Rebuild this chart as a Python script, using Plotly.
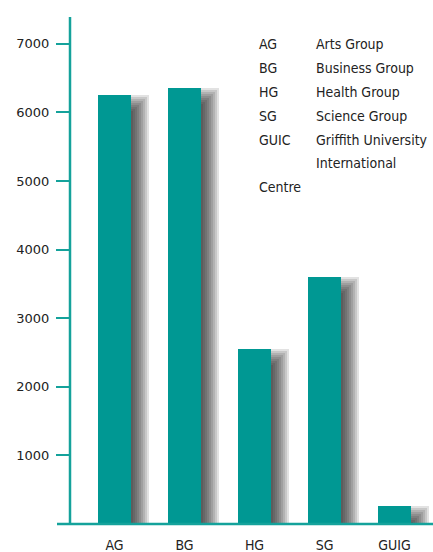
import plotly.graph_objects as go

categories = ["AG", "BG", "HG", "SG", "GUIG"]
values = [6250, 6350, 2550, 3600, 260]
y_ticks = [1000, 2000, 3000, 4000, 5000, 6000, 7000]
key_codes = ["AG", "BG", "HG", "SG", "GUIC", "", "Centre"]
key_names = ["Arts Group", "Business Group", "Health Group", "Science Group",
             "Griffith University", "International", ""]

TEAL = "#009893"
AXIS = "#14a29b"
TEXT = "#222222"
FONT = "DejaVu Sans Condensed, DejaVu Sans, sans-serif"

W, H = 433, 552
L, R, T, B = 70, 0, 17, 28
YMAX = 7390

plot_w = W - L - R
plot_h = H - T - B
bottom_px = H - B
units_per_px = YMAX / plot_h
cat_px = plot_w / (4.55 + 0.636)

fig = go.Figure()

# soft blurred drop shadow built from stacked translucent layers
DX, DY = 7, 11
N = 10
for k in range(N):
    r = -7 + 2 * k
    ext = max(DX + r, 0) / cat_px
    drop = max(DY - r, 0) * units_per_px
    fig.add_trace(go.Bar(
        x=categories, y=values, base=-drop,
        offset=0.0, width=0.235 + ext,
        marker=dict(color="rgba(30,30,30,0.13)", line=dict(width=0)),
        hoverinfo="skip", showlegend=False,
    ))

fig.add_trace(go.Bar(
    x=categories, y=values,
    offset=-0.235, width=0.47,
    marker=dict(color=TEAL, line=dict(width=0)),
    showlegend=False,
))


def px_x(p):
    return (p - L) / plot_w


def px_y(p):
    return (bottom_px - p) / plot_h


annotations = []
row_px = [44, 68, 92, 116, 140, 163, 187]
for code, name, ry in zip(key_codes, key_names, row_px):
    if code:
        annotations.append(dict(x=px_x(257), y=px_y(ry), xref="paper", yref="paper",
                                text=code, showarrow=False, xanchor="left", yanchor="middle",
                                font=dict(family=FONT, size=14, color=TEXT)))
    if name:
        annotations.append(dict(x=px_x(314), y=px_y(ry), xref="paper", yref="paper",
                                text=name, showarrow=False, xanchor="left", yanchor="middle",
                                font=dict(family=FONT, size=14, color=TEXT)))

shapes = [
    dict(type="line", xref="paper", yref="paper", x0=0, x1=0, y0=0, y1=1,
         line=dict(color=AXIS, width=2.5)),
    dict(type="line", xref="paper", yref="paper", x0=px_x(57), x1=1, y0=0, y1=0,
         line=dict(color=AXIS, width=2.5)),
]

fig.update_layout(
    width=W, height=H,
    margin=dict(l=L, r=R, t=T, b=B, autoexpand=False),
    paper_bgcolor="white", plot_bgcolor="white",
    barmode="overlay", bargap=0,
    font=dict(family=FONT, size=13, color=TEXT),
    xaxis=dict(type="category", range=[-0.636, 4.55], showgrid=False, zeroline=False,
               showline=False, ticks="", tickfont=dict(family=FONT, size=14, color=TEXT),
               ticklabelstandoff=11, automargin=False, fixedrange=True),
    yaxis=dict(range=[0, YMAX], tickvals=y_ticks, ticktext=[str(v) for v in y_ticks],
               showgrid=False, zeroline=False, showline=False,
               ticks="outside", ticklen=13, tickwidth=2, tickcolor=AXIS,
               tickfont=dict(family="DejaVu Sans, sans-serif", size=13, color=TEXT),
               ticklabelstandoff=4, automargin=False, fixedrange=True),
    annotations=annotations,
    shapes=shapes,
)

fig.write_html("out.html", config={"displayModeBar": False},
               post_script="document.body.style.margin='0';")
